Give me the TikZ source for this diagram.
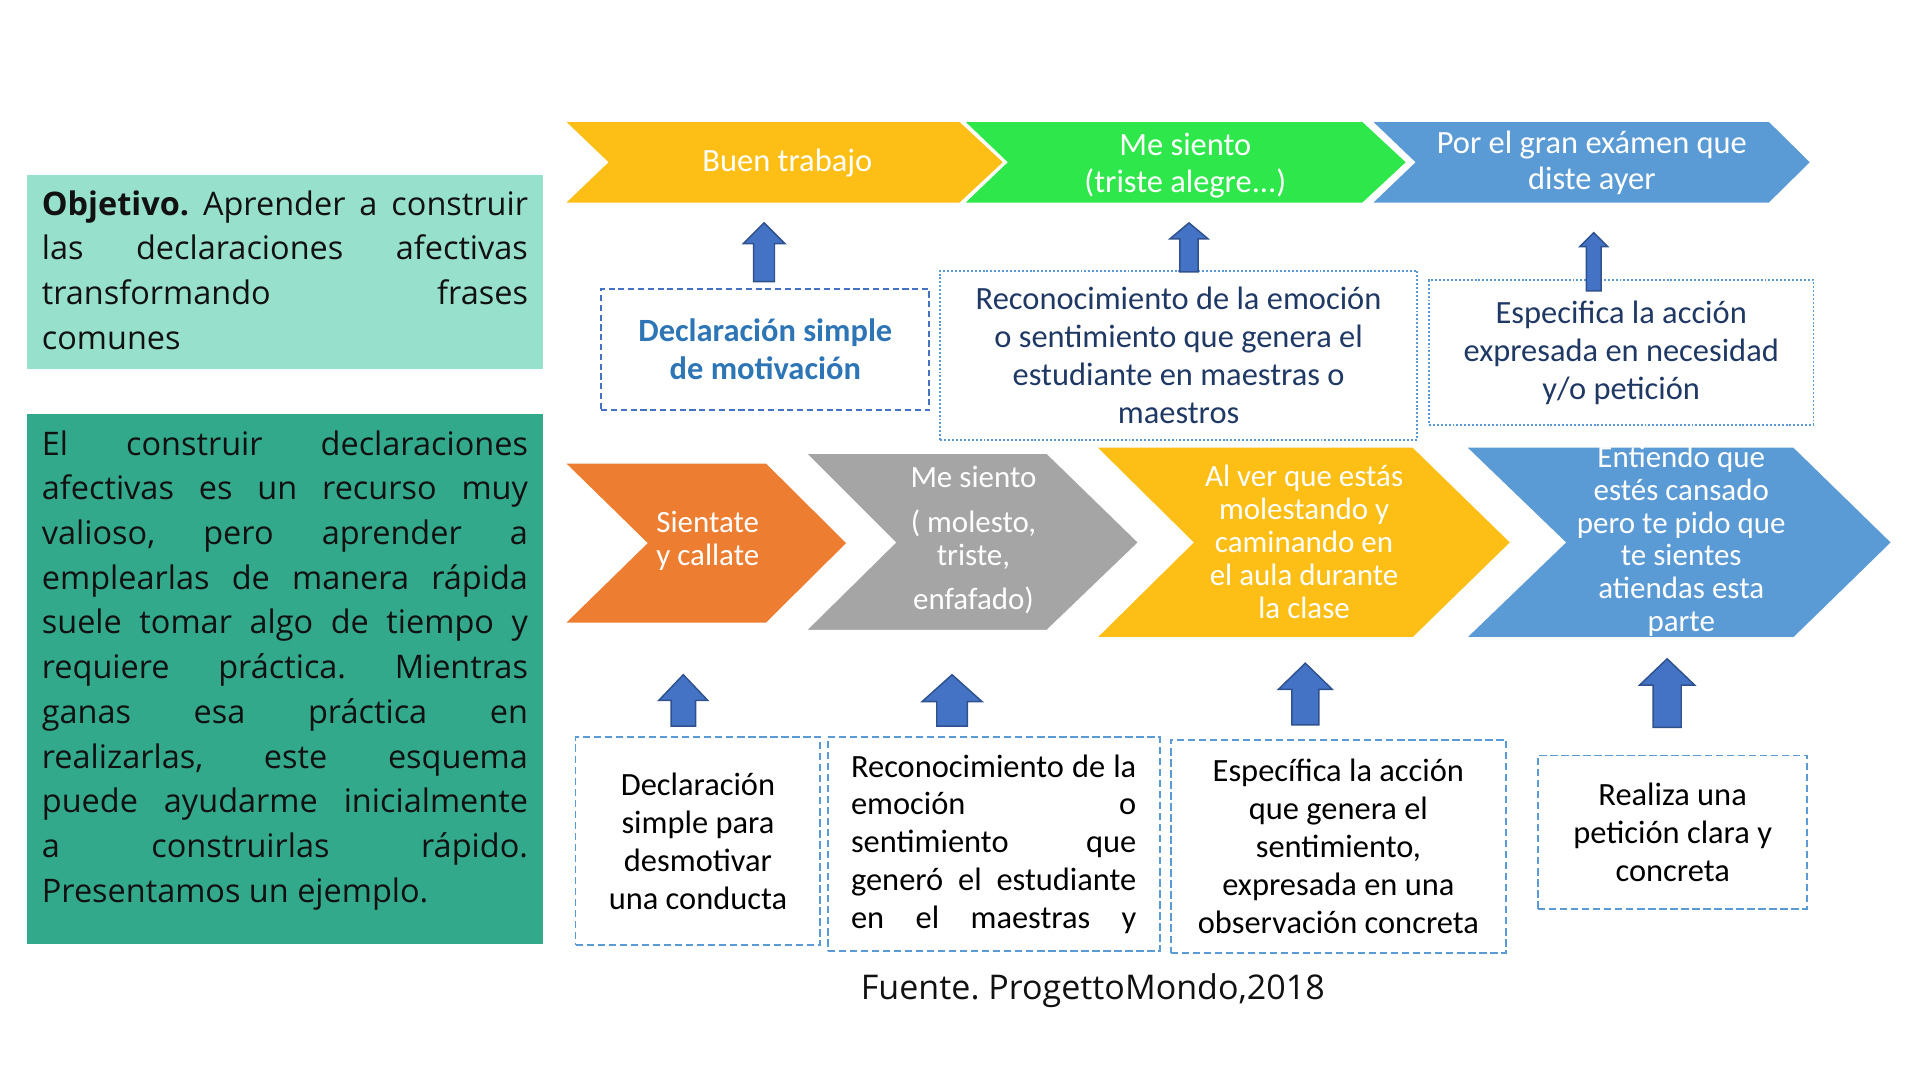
\documentclass[tikz,border=0pt]{standalone}
\usepackage{fontspec}
\setmainfont{Open Sans}
\newfontfamily\carl{Carlito}
\tolerance=10000
\hbadness=10000
\hfuzz=4pt

\definecolor{panelmint}{HTML}{97E0CB}
\definecolor{panelteal}{HTML}{33A98C}
\definecolor{chevgold}{HTML}{FDBF15}
\definecolor{chevgreen}{HTML}{2EE84B}
\definecolor{chevblue}{HTML}{5B9BD5}
\definecolor{chevorange}{HTML}{ED7D31}
\definecolor{chevgray}{HTML}{A5A5A5}
\definecolor{arrowfill}{HTML}{4472C4}
\definecolor{arrowline}{HTML}{2F528F}
\definecolor{navytext}{HTML}{1F3864}
\definecolor{bluetext}{HTML}{2E75B6}
\definecolor{inktext}{HTML}{111111}

% upward block arrow: centre x, tip y, head base y, bottom y, half shaft, half head
\newcommand{\blockup}[6]{%
  \draw[blockarrow] ({#1-#5},#4) -- ({#1-#5},#3) -- ({#1-#6},#3) -- (#1,#2)
    -- ({#1+#6},#3) -- ({#1+#5},#3) -- ({#1+#5},#4) -- cycle;}

\begin{document}
\begin{tikzpicture}[x=1pt,y=-1pt,
  panel/.style={inner sep=0pt, anchor=north west},
  paneltext/.style={inner sep=0pt, anchor=north west, text width=397pt,
    align=justify, text=inktext, font=\frenchspacing\fontsize{26.5}{36.5}\selectfont},
  chev/.style={draw=white, line width=1.2pt, line join=miter},
  chevtop/.style={text=white, inner sep=0pt, align=center,
    font=\carl\fontsize{26.5}{30}\selectfont},
  chevlow/.style={text=white, inner sep=0pt, align=center,
    font=\carl\fontsize{25.3}{26.8}\selectfont},
  hintdash/.style={draw=arrowfill, dash pattern=on 5pt off 3pt, line width=1.6pt,
    inner sep=0pt, align=center, text=bluetext,
    font=\carl\bfseries\fontsize{26.5}{31}\selectfont},
  hintdot/.style={draw=chevblue, dash pattern=on 1.6pt off 1.6pt, line width=1.6pt,
    inner sep=0pt, align=center, text=navytext,
    font=\carl\fontsize{26.5}{31}\selectfont},
  stepbox/.style={draw=chevblue, dash pattern=on 6pt off 3pt, line width=1.6pt,
    inner sep=0pt, align=center, text=black,
    font=\carl\fontsize{26.5}{31}\selectfont},
  blockarrow/.style={fill=arrowfill, draw=arrowline, line width=1.2pt, line join=miter},
]
\useasboundingbox (0,0) rectangle (1568,882);

% ---------- left panels ----------
\node[panel, fill=panelmint, minimum width=421pt, minimum height=158pt] (objbox) at (22,143) {};
\node[paneltext] (objtext) at (34,150) {\strut\textbf{Objetivo.} Aprender a construir\linebreak
las declaraciones afectivas\linebreak
transformando frases\linebreak
comunes};

\node[panel, fill=panelteal, minimum width=421pt, minimum height=433pt] (introbox) at (22,338) {};
\node[paneltext] (introtext) at (34,346) {\strut El construir declaraciones\linebreak
afectivas es un recurso muy\linebreak
valioso, pero aprender a\linebreak
emplearlas de manera rápida\linebreak
suele tomar algo de tiempo y\linebreak
requiere práctica. Mientras\linebreak
ganas esa práctica en\linebreak
realizarlas, este esquema\linebreak
puede ayudarme inicialmente\linebreak
a construirlas rápido.\linebreak
Presentamos un ejemplo.};

% ---------- top chevrons ----------
\filldraw[chev, fill=chevgold]  (461,99) -- (784,99) -- (820,132.5) -- (784,166) -- (461,166) -- (496,132.5) -- cycle;
\filldraw[chev, fill=chevgreen] (787,99) -- (1113,99) -- (1149,132.5) -- (1113,166) -- (787,166) -- (822,132.5) -- cycle;
\filldraw[chev, fill=chevblue]  (1120,99) -- (1445,99) -- (1479,132.5) -- (1445,166) -- (1120,166) -- (1155,132.5) -- cycle;

\node[chevtop, anchor=base] (good) at (643,139.7) {Buen trabajo};
\node[chevtop] (feel) at (968,135) {Me siento\\(triste alegre...)};
\node[chevtop] (exam) at (1300,133) {Por el gran exámen que\\diste ayer};

% ---------- middle hint boxes ----------
\node[hintdash, minimum width=268pt, minimum height=99pt] (hintA) at (625,285.5) {Declaración simple\\de motivación};
\node[hintdot, minimum width=389pt, minimum height=138pt] (hintB) at (962.5,290) {Reconocimiento de la emoción\\o sentimiento que genera el\\estudiante en maestras o\\maestros};
\node[hintdot, minimum width=314pt, minimum height=118pt] (hintC) at (1324,288) {Especifica la acción\\expresada en necesidad\\y/o petición};

\blockup{624}{182}{199}{230}{8.5}{17}
\blockup{971}{182}{195}{222}{7.5}{15.5}
\blockup{1301.5}{190}{201.5}{237.5}{6}{11.5}

% ---------- lower chevrons ----------
\filldraw[chev, fill=chevorange] (461,378) -- (626,378) -- (692,443.5) -- (626,509) -- (461,509) -- (528,443.5) -- cycle;
\filldraw[chev, fill=chevgray]   (658,370) -- (855,370) -- (930,443) -- (855,515) -- (658,515) -- (731,443) -- cycle;
\filldraw[chev, fill=chevgold]   (895,365) -- (1154,365) -- (1234,443) -- (1154,521) -- (895,521) -- (974,443) -- cycle;
\filldraw[chev, fill=chevblue]   (1197,365) -- (1465,365) -- (1545,443) -- (1465,521) -- (1197,521) -- (1278,443) -- cycle;

\node[chevlow] (sit) at (578,441.5) {Sientate\\y callate};
\node[chevlow] (upset) at (795,441) {Me siento\\[10pt]( molesto,\\triste,\\[9pt]enfafado)};
\node[chevlow] (seeing) at (1065,442.5) {Al ver que estás\\molestando y\\caminando en\\el aula durante\\la clase};
\node[chevlow] (ask) at (1373,442) {Entiendo que\\estés cansado\\pero te pido que\\te sientes\\atiendas esta\\parte};

% ---------- bottom step boxes ----------
\node[stepbox, minimum width=200pt, minimum height=170pt] (stepA) at (570,687) {Declaración\\simple para\\desmotivar\\una conducta};
\node[stepbox, minimum width=271pt, minimum height=175pt, text width=233pt, align=justify] (stepB) at (811.5,689.5)
  {\parfillskip=0pt Reconocimiento de la\linebreak emoción o\linebreak sentimiento que\linebreak generó el estudiante\linebreak en el maestras y\par};
\node[stepbox, minimum width=274pt, minimum height=174pt] (stepC) at (1093,691) {Específica la acción\\que genera el\\sentimiento,\\expresada en una\\observación concreta};
\node[stepbox, minimum width=220pt, minimum height=125pt] (stepD) at (1366,679.5) {Realiza una\\petición clara y\\concreta};

\blockup{558}{551}{572}{593}{10}{20}
\blockup{777.5}{551}{573}{593}{12.5}{24.5}
\blockup{1066}{541.6}{563}{592}{11}{22}
\blockup{1361.5}{538}{559.5}{594}{11.5}{22.5}

% ---------- source ----------
\node[anchor=base, inner sep=0pt, text=inktext, font=\frenchspacing\fontsize{27.8}{33}\selectfont] (source) at (892.5,816) {Fuente. ProgettoMondo,2018};
\end{tikzpicture}
\end{document}
